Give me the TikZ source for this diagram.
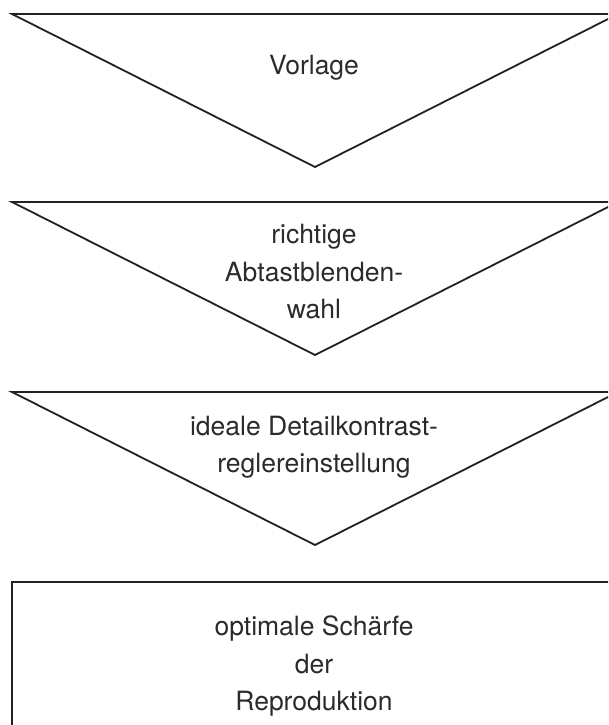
\documentclass[tikz,border=0pt]{standalone}
\usepackage{fontspec}
\setmainfont{TeX Gyre Heros}
\definecolor{ink}{HTML}{222222}
\definecolor{txt}{HTML}{2B2B2B}
\tikzset{
  shapeline/.style={draw=ink, line width=1.8pt, line join=miter},
  label/.style={text=txt, align=center, inner sep=0pt, font=\fontsize{26.5}{37.5}\selectfont}
}
\begin{document}
\begin{tikzpicture}[x=1pt,y=-1pt]
\useasboundingbox (0,0) rectangle (608,725);
\fill[white] (0,0) rectangle (608,725);
\clip (0,0) rectangle (608,725);
% triangles
\draw[shapeline] (12,14) -- (618,14) -- (315,167) -- cycle;
\draw[shapeline] (12,202) -- (618,202) -- (315,355) -- cycle;
\draw[shapeline] (12,392) -- (618,392) -- (315,545) -- cycle;
% rectangle
\draw[shapeline] (12,740) -- (12,582) -- (618,582) -- (618,740);
% labels
\node[label] (t1) at (314,68) {Vorlage};
\node[label] (t2) at (314,272) {richtige\\Abtastblenden-\\wahl};
\node[label] (t3) at (314,447) {ideale Detailkontrast-\\reglereinstellung};
\node[label] (t4) at (314,666) {optimale Schärfe\\der\\Reproduktion};
\end{tikzpicture}
\end{document}
